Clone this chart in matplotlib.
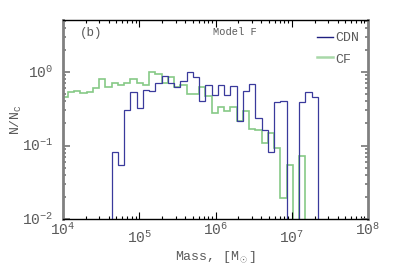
import numpy as np
import matplotlib
matplotlib.use('Agg')
import matplotlib.pyplot as plt

plt.rcParams['font.family'] = ['Liberation Mono', 'DejaVu Sans']
plt.rcParams['mathtext.fontset'] = 'custom'
plt.rcParams['mathtext.rm'] = 'Liberation Mono'
plt.rcParams['mathtext.it'] = 'Liberation Mono'

# histogram bins (log10 mass), 0.082 dex wide
bin_edges = np.logspace(3.98, 7.342, 42)

# CF: bins 0..38
cf_values = [0.457, 0.529, 0.546, 0.518, 0.529, 0.600, 0.795, 0.632, 0.716, 0.665,
             0.701, 0.795, 0.716, 0.665, 1.0, 0.949, 0.70, 0.846, 0.62, 0.66,
             0.497, 0.497, 0.618, 0.477, 0.274, 0.33, 0.298, 0.337, 0.218, 0.295,
             0.166, 0.165, 0.109, 0.146, 0.0915, 0.019, 0.055, 0.0, 0.072]

# CDN: bins 8..40
cdn_values = [0.081, 0.055, 0.304, 0.54, 0.327, 0.569, 0.545, 0.70, 0.89, 0.70,
              0.618, 0.762, 1.0, 0.846, 0.407, 0.665, 0.486, 0.665, 0.486, 0.652,
              0.218, 0.551, 0.68, 0.239, 0.163, 0.081, 0.386, 0.407, 0.0, 0.0,
              0.386, 0.54, 0.462]
cdn_first_bin = 8

x_ticks = [1e4, 1e5, 1e6, 1e7, 1e8]
x_labels = ['4', '5', '6', '7', '8']
y_ticks = [1e-2, 1e-1, 1e0]
y_labels = ['-2', '-1', '0']

floor = 1e-4
cf = np.where(np.array(cf_values) > 0, cf_values, floor)
cdn = np.where(np.array(cdn_values) > 0, cdn_values, floor)

cdn_color = '#3a3a9c'
cf_color = '#86c986'
txt = '#5a5a5a'

fig = plt.figure(figsize=(4.07, 2.71), dpi=100)
ax = fig.add_axes([0.155, 0.192, 0.749, 0.734])

ax.stairs(cf, bin_edges[:len(cf) + 1], baseline=floor, color=cf_color, lw=1.2)
ax.stairs(cdn, bin_edges[cdn_first_bin:cdn_first_bin + len(cdn) + 1], baseline=floor,
          color=cdn_color, lw=0.9)

ax.set_xscale('log')
ax.set_yscale('log')
ax.set_xlim(1e4, 1e8)
ax.set_ylim(1e-2, 5.1)

ax.set_xticks(x_ticks)
ax.set_yticks(y_ticks)
ax.set_xticklabels([])
ax.set_yticklabels([])
ax.tick_params(axis='x', which='both', direction='in', top=True, bottom=True,
               colors='black', width=0.8)
ax.tick_params(axis='x', which='major', length=5)
ax.tick_params(axis='x', which='minor', length=2.5)
ax.tick_params(axis='y', which='both', direction='in', left=True, right=True,
               colors='#808080', width=1.3)
ax.tick_params(axis='y', which='major', length=5)
ax.tick_params(axis='y', which='minor', length=2.5)

for s in ['top', 'bottom']:
    ax.spines[s].set_color('black')
    ax.spines[s].set_linewidth(1.0)
for s in ['left', 'right']:
    ax.spines[s].set_color('#808080')
    ax.spines[s].set_linewidth(2.0)

# x tick labels, alternating heights as in the original
for i, (xv, lab) in enumerate(zip(x_ticks, x_labels)):
    off = -8 if i % 2 == 0 else -13.5
    ax.annotate(r'$\mathregular{10^{%s}}$' % lab, xy=(xv, 0), xycoords=('data', 'axes fraction'),
                xytext=(0, off), textcoords='offset points', ha='center', va='center',
                fontsize=10.5, color=txt)

for yv, lab in zip(y_ticks, y_labels):
    ax.annotate(r'$\mathregular{10^{%s}}$' % lab, xy=(0, yv), xycoords=('axes fraction', 'data'),
                xytext=(-7, -0.5), textcoords='offset points', ha='right', va='center',
                fontsize=10.5, color=txt)

ax.text(0.5, -0.19, r'Mass, [M$_\odot$]', transform=ax.transAxes, ha='center', va='center',
        fontsize=9.5, color=txt)
ax.text(-0.152, 0.5, r'N/N$_\mathregular{C}$', transform=ax.transAxes, ha='center', va='center',
        rotation=90, fontsize=9.5, color=txt)

ax.text(0.056, 0.935, '(b)', transform=ax.transAxes, ha='left', va='center',
        fontsize=9, color=txt)
ax.text(0.564, 0.94, 'Model F', transform=ax.transAxes, ha='center', va='center',
        fontsize=7.5, color=txt)

# legend
ax.plot([0.833, 0.885], [0.915, 0.915], transform=ax.transAxes, color='#1f1f80', lw=1.0)
ax.text(0.893, 0.91, 'CDN', transform=ax.transAxes, ha='left', va='center',
        fontsize=9.5, color=txt)
ax.plot([0.833, 0.885], [0.814, 0.814], transform=ax.transAxes, color='#a8d8a8', lw=1.8)
ax.text(0.893, 0.80, 'CF', transform=ax.transAxes, ha='left', va='center',
        fontsize=9.5, color=txt)

fig.savefig('out.png', dpi=100)
